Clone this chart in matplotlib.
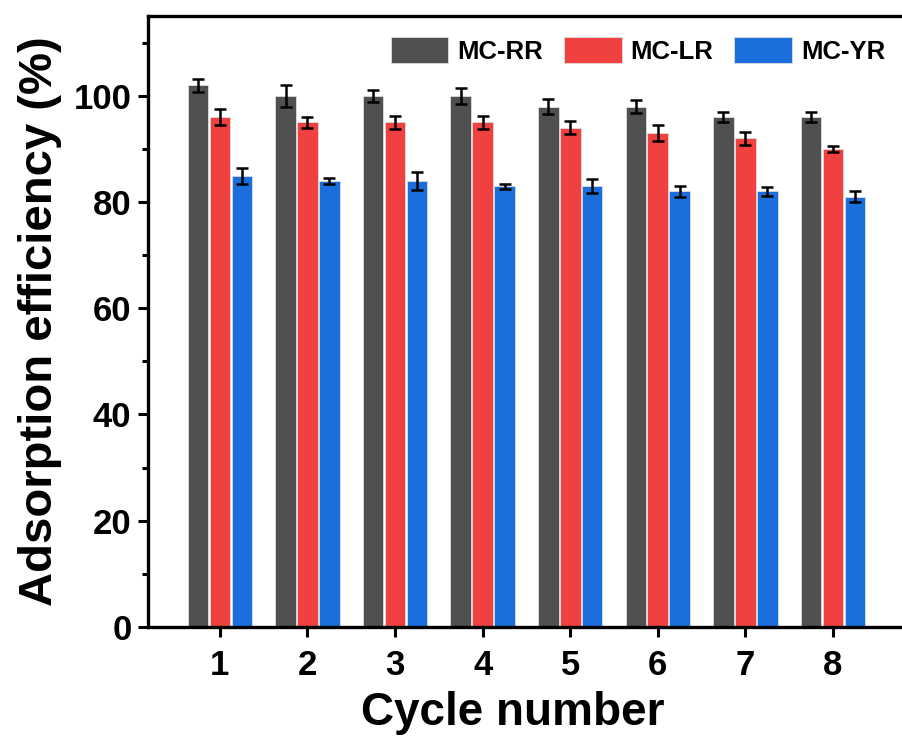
import numpy as np
import matplotlib.pyplot as plt
from matplotlib.ticker import MultipleLocator

plt.rcParams['font.family'] = ['Liberation Sans', 'DejaVu Sans']
plt.rcParams['font.weight'] = 'bold'

cycles = [1, 2, 3, 4, 5, 6, 7, 8]
labels = ['MC-RR', 'MC-LR', 'MC-YR']
rr = [102, 100, 100, 100, 98, 98, 96, 96]
rr_err = [1.2, 2.0, 1.2, 1.5, 1.5, 1.2, 1.0, 1.0]
lr = [96, 95, 95, 95, 94, 93, 92, 90]
lr_err = [1.5, 1.0, 1.3, 1.3, 1.2, 1.5, 1.2, 0.5]
yr = [85, 84, 84, 83, 83, 82, 82, 81]
yr_err = [1.5, 0.5, 1.7, 0.5, 1.3, 1.0, 0.8, 1.0]
colors = ['#505050', '#f04040', '#1a6fdc']

fig = plt.figure(figsize=(9.03, 7.4), dpi=100)
ax = fig.add_axes([0.164, 0.153, 0.836, 0.825])

x = np.array(cycles)
w = 0.235
for i, (vals, errs) in enumerate([(rr, rr_err), (lr, lr_err), (yr, yr_err)]):
    ax.bar(x + (i - 1) * 0.25, vals, w, color=colors[i], edgecolor='#dddddd',
           linewidth=0.6, label=labels[i], zorder=2)
    ax.errorbar(x + (i - 1) * 0.25, vals, yerr=errs, fmt='none', ecolor='black',
                elinewidth=1.8, capsize=4, capthick=1.8, zorder=3)

ax.set_xlim(0.18, 8.8)
ax.set_ylim(0, 115)
ax.set_xticks(cycles)
ax.yaxis.set_major_locator(MultipleLocator(20))
ax.yaxis.set_minor_locator(MultipleLocator(10))

for side in ['left', 'bottom', 'top']:
    ax.spines[side].set_linewidth(2.4)
ax.spines['right'].set_visible(False)
ax.tick_params(which='major', direction='out', length=7, width=2.2, labelsize=25, pad=5)
ax.tick_params(axis='x', which='major', pad=9)
ax.tick_params(which='minor', direction='out', length=4, width=2.2)
ax.tick_params(axis='x', which='both', top=False)

ax.set_xlabel('Cycle number', fontsize=33, fontweight='bold')
ax.xaxis.set_label_coords(0.483, -0.105)
ax.set_ylabel('Adsorption efficiency (%)', fontsize=34, fontweight='bold', labelpad=8)

ax.legend(loc='upper right', bbox_to_anchor=(1.0, 0.995), ncol=3, frameon=False,
          fontsize=18.5, handlelength=2.25, handleheight=1.15, columnspacing=0.8,
          handletextpad=0.35, borderaxespad=0.3)

fig.savefig('out.png', dpi=100)
